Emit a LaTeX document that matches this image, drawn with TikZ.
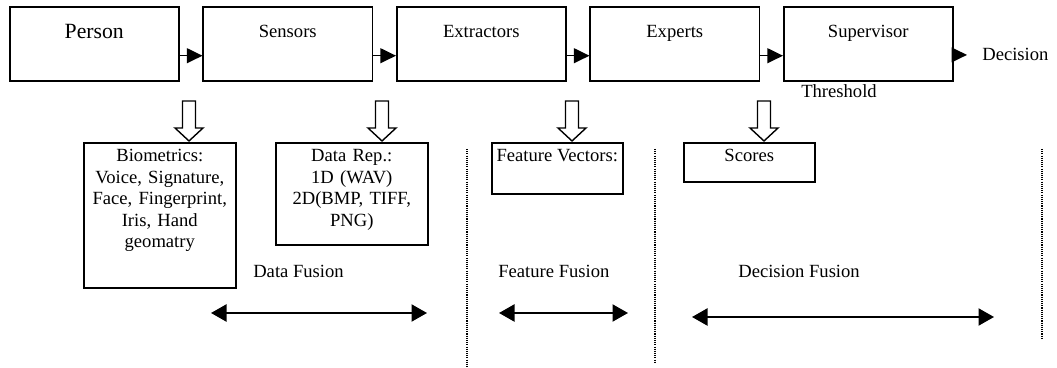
\documentclass[tikz,border=0pt]{standalone}
\usepackage{fontspec}
\setmainfont{Liberation Serif}
\usetikzlibrary{positioning, arrows.meta}
\newlength{\px}\setlength{\px}{0.645pt}

\begin{document}
\begin{tikzpicture}[
  x=\px, y=-\px,
  stage/.style={draw, line width=1pt, minimum width=169\px, inner sep=0pt,
                text height=30.5\px, text depth=43.5\px, font=\fontsize{12}{13.9}\selectfont},
  panel/.style={draw, line width=1pt, anchor=north west, inner sep=0pt,
                text height=19\px, font=\fontsize{12}{13.9}\selectfont},
  flow/.style={-{Triangle[length=10pt, width=9.5pt]}, line width=1pt},
  span/.style={{Triangle[length=10pt, width=11pt]}-{Triangle[length=10pt, width=11pt]}, line width=1.3pt},
  divider/.style={line width=0.7pt, dash pattern=on 0.7pt off 0.7pt},
  hollow/.style={draw, line width=0.9pt, fill=white, line join=miter},
  lbl/.style={inner sep=0pt, anchor=base west, font=\fontsize{12}{13.9}\selectfont},
]
\useasboundingbox (0,0) rectangle (1057,368);

% Processing chain
\node[stage, anchor=north west, font=\fontsize{14}{16}\selectfont,
      text height=32\px, text depth=42\px] (person) at (9,6) {Person};
\node[stage, right=14.8pt of person] (sensors) {Sensors};
\node[stage, right=14.8pt of sensors] (extract) {Extractors};
\node[stage, right=14.8pt of extract] (experts) {Experts};
\node[stage, right=14.8pt of experts] (sup) {Supervisor};
\node[lbl, inner xsep=15\px] (dec) at (967,61) {Decision};
\node[lbl] (thr) at (801,98) {Threshold};

\foreach \a/\b in {person/sensors, sensors/extract, extract/experts, experts/sup}
  \draw[flow] ([yshift=-7.7pt]\a.east) -- ([yshift=-7.7pt]\b.west);
\draw[flow] (dec.west -| sup.east) -- (dec.west);

% What each stage hands on
\node[panel, align=center, text width=152\px, text depth=126\px] (bio) at (83,142)
  {Biometrics:\\Voice, Signature,\\Face, Fingerprint,\\Iris, Hand\\geomatry};
\node[panel, align=center, text width=152\px, text depth=83\px] (rep) at (275,142)
  {Data Rep.:\\1D (WAV)\\2D(BMP, TIFF,\\PNG)};
\node[panel, minimum width=131\px, text depth=32\px] (feat) at (491,142) {Feature Vectors:};
\node[panel, minimum width=131\px, text depth=20\px] (score) at (683,142) {Scores};

\foreach \ax in {189, 382, 572, 764}
  \draw[hollow] (\ax-6.5,101) -- (\ax+6.5,101) -- (\ax+6.5,128) -- (\ax+14,128)
    -- (\ax,141) -- (\ax-14,128) -- (\ax-6.5,128) -- cycle;

% Fusion levels
\foreach \dx/\dy in {467/367, 655/363, 1042/339}
  \draw[divider] (\dx,149) -- (\dx,\dy);

\node[lbl] (dfus) at (253,278) {Data Fusion};
\node[lbl] (ffus) at (498,278) {Feature Fusion};
\node[lbl] (cfus) at (738,278) {Decision Fusion};

\draw[span] (211,313) -- (427,313);
\draw[span] (499,313) -- (628,313);
\draw[span] (692,317) -- (994,317);

\end{tikzpicture}
\end{document}
